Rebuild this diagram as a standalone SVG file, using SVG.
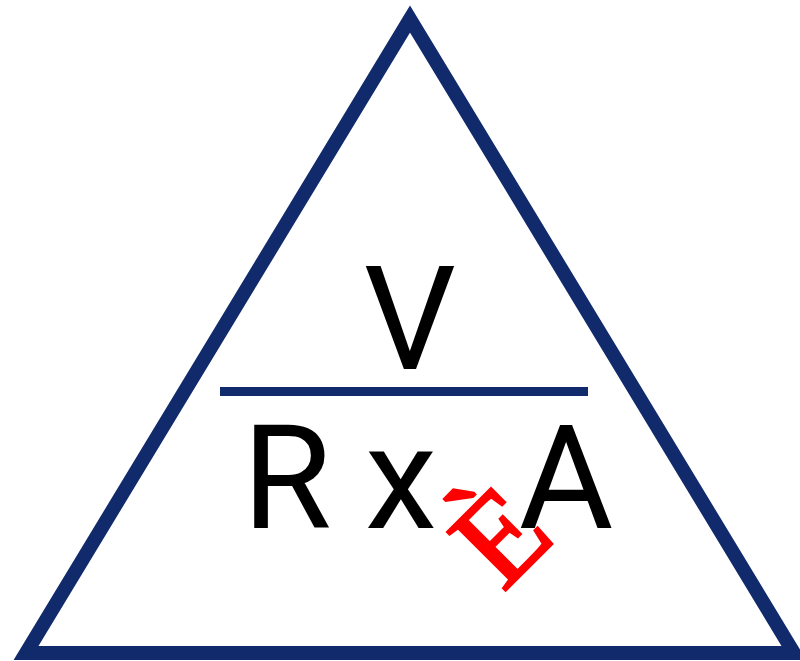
<svg xmlns="http://www.w3.org/2000/svg" width="800" height="661" viewBox="0 0 800 661">
<style>
.edge{fill:none;stroke:#112a6c;stroke-linejoin:miter}
.lbl{font-family:Roboto,"Liberation Sans",sans-serif;font-size:145px;fill:#000;text-anchor:middle}
.mark{font-family:"Liberation Serif","DejaVu Serif",serif;font-size:126px;fill:#ff0000;stroke:#ff0000;stroke-width:2.5px}
</style>
<rect width="800" height="661" fill="#fff"/>
<g id="connectors">
<polygon class="edge" stroke-width="14" points="410,19 26,653 794,653"/>
<line class="edge" x1="220" y1="391.5" x2="588" y2="391.5" stroke-width="9" stroke="#0b2262"/>
</g>
<g id="numerator"><text class="lbl" x="410" y="369">V</text></g>
<g id="denominator"><text class="lbl" y="528"><tspan x="287">R</tspan><tspan x="401">x</tspan><tspan x="566">A</tspan></text></g>
<g id="stamp"><text class="mark" x="503" y="593" transform="rotate(-45 503 593)">È</text></g>
</svg>
